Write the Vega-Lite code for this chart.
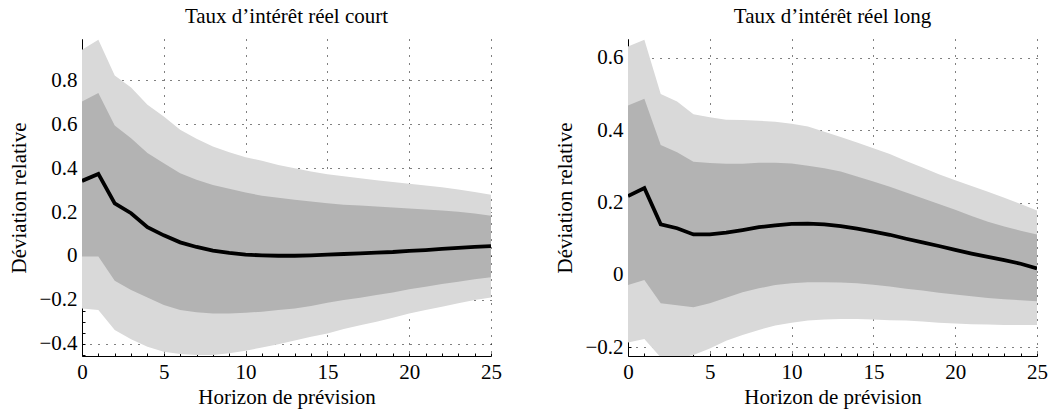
{
  "$schema": "https://vega.github.io/schema/vega-lite/v6.json",
  "padding": {"left": 8, "top": 6, "right": 5, "bottom": 2},
  "spacing": 52,
  "config": {
    "font": "Liberation Serif",
    "view": {"stroke": null},
    "title": {"font": "Liberation Serif", "fontSize": 21, "fontWeight": "normal", "color": "black", "offset": 12, "anchor": "middle", "frame": "group"},
    "axis": {"labelFont": "Liberation Serif", "titleFont": "Liberation Serif", "labelFontSize": 21, "titleFontSize": 21, "titleFontWeight": "normal", "labelColor": "black", "titleColor": "black", "labelFlush": false, "labelOverlap": false,
      "grid": true, "gridColor": "black", "gridDash": [1, 7], "gridWidth": 1,
      "ticks": true, "tickSize": -3, "tickColor": "black", "tickWidth": 1,
      "domain": true, "domainColor": "black", "domainWidth": 1, "zindex": 1}
  },
  "datasets": {
    "court": [
      {"h": 0, "med": 0.342, "hi68": 0.704, "lo68": -0.003, "hi90": 0.940, "lo90": -0.239},
      {"h": 1, "med": 0.374, "hi68": 0.743, "lo68": -0.003, "hi90": 0.986, "lo90": -0.246},
      {"h": 2, "med": 0.240, "hi68": 0.595, "lo68": -0.113, "hi90": 0.823, "lo90": -0.338},
      {"h": 3, "med": 0.195, "hi68": 0.537, "lo68": -0.155, "hi90": 0.768, "lo90": -0.380},
      {"h": 4, "med": 0.131, "hi68": 0.469, "lo68": -0.189, "hi90": 0.689, "lo90": -0.414},
      {"h": 5, "med": 0.094, "hi68": 0.423, "lo68": -0.224, "hi90": 0.636, "lo90": -0.437},
      {"h": 6, "med": 0.062, "hi68": 0.377, "lo68": -0.246, "hi90": 0.575, "lo90": -0.447},
      {"h": 7, "med": 0.041, "hi68": 0.347, "lo68": -0.257, "hi90": 0.534, "lo90": -0.452},
      {"h": 8, "med": 0.024, "hi68": 0.324, "lo68": -0.262, "hi90": 0.499, "lo90": -0.452},
      {"h": 9, "med": 0.014, "hi68": 0.306, "lo68": -0.262, "hi90": 0.473, "lo90": -0.444},
      {"h": 10, "med": 0.006, "hi68": 0.289, "lo68": -0.259, "hi90": 0.450, "lo90": -0.432},
      {"h": 11, "med": 0.003, "hi68": 0.275, "lo68": -0.254, "hi90": 0.434, "lo90": -0.417},
      {"h": 12, "med": 0.001, "hi68": 0.265, "lo68": -0.246, "hi90": 0.415, "lo90": -0.402},
      {"h": 13, "med": 0.001, "hi68": 0.256, "lo68": -0.239, "hi90": 0.400, "lo90": -0.385},
      {"h": 14, "med": 0.003, "hi68": 0.248, "lo68": -0.228, "hi90": 0.385, "lo90": -0.368},
      {"h": 15, "med": 0.006, "hi68": 0.240, "lo68": -0.213, "hi90": 0.373, "lo90": -0.353},
      {"h": 16, "med": 0.009, "hi68": 0.234, "lo68": -0.201, "hi90": 0.363, "lo90": -0.333},
      {"h": 17, "med": 0.012, "hi68": 0.230, "lo68": -0.190, "hi90": 0.354, "lo90": -0.316},
      {"h": 18, "med": 0.015, "hi68": 0.225, "lo68": -0.178, "hi90": 0.345, "lo90": -0.300},
      {"h": 19, "med": 0.018, "hi68": 0.221, "lo68": -0.167, "hi90": 0.337, "lo90": -0.282},
      {"h": 20, "med": 0.023, "hi68": 0.216, "lo68": -0.152, "hi90": 0.329, "lo90": -0.262},
      {"h": 21, "med": 0.027, "hi68": 0.212, "lo68": -0.140, "hi90": 0.321, "lo90": -0.246},
      {"h": 22, "med": 0.032, "hi68": 0.207, "lo68": -0.128, "hi90": 0.313, "lo90": -0.231},
      {"h": 23, "med": 0.037, "hi68": 0.201, "lo68": -0.117, "hi90": 0.303, "lo90": -0.216},
      {"h": 24, "med": 0.041, "hi68": 0.193, "lo68": -0.106, "hi90": 0.292, "lo90": -0.201},
      {"h": 25, "med": 0.045, "hi68": 0.183, "lo68": -0.097, "hi90": 0.279, "lo90": -0.189}
    ],
    "long": [
      {"h": 0, "med": 0.218, "hi68": 0.468, "lo68": -0.028, "hi90": 0.631, "lo90": -0.187},
      {"h": 1, "med": 0.240, "hi68": 0.487, "lo68": -0.014, "hi90": 0.650, "lo90": -0.177},
      {"h": 2, "med": 0.140, "hi68": 0.359, "lo68": -0.078, "hi90": 0.500, "lo90": -0.228},
      {"h": 3, "med": 0.129, "hi68": 0.339, "lo68": -0.084, "hi90": 0.479, "lo90": -0.232},
      {"h": 4, "med": 0.112, "hi68": 0.313, "lo68": -0.089, "hi90": 0.444, "lo90": -0.221},
      {"h": 5, "med": 0.112, "hi68": 0.309, "lo68": -0.078, "hi90": 0.436, "lo90": -0.203},
      {"h": 6, "med": 0.117, "hi68": 0.307, "lo68": -0.063, "hi90": 0.429, "lo90": -0.182},
      {"h": 7, "med": 0.124, "hi68": 0.307, "lo68": -0.048, "hi90": 0.428, "lo90": -0.166},
      {"h": 8, "med": 0.132, "hi68": 0.310, "lo68": -0.037, "hi90": 0.426, "lo90": -0.152},
      {"h": 9, "med": 0.137, "hi68": 0.310, "lo68": -0.028, "hi90": 0.423, "lo90": -0.140},
      {"h": 10, "med": 0.141, "hi68": 0.308, "lo68": -0.023, "hi90": 0.418, "lo90": -0.132},
      {"h": 11, "med": 0.142, "hi68": 0.302, "lo68": -0.020, "hi90": 0.410, "lo90": -0.126},
      {"h": 12, "med": 0.140, "hi68": 0.295, "lo68": -0.020, "hi90": 0.396, "lo90": -0.123},
      {"h": 13, "med": 0.135, "hi68": 0.286, "lo68": -0.021, "hi90": 0.381, "lo90": -0.122},
      {"h": 14, "med": 0.128, "hi68": 0.272, "lo68": -0.023, "hi90": 0.366, "lo90": -0.122},
      {"h": 15, "med": 0.120, "hi68": 0.258, "lo68": -0.027, "hi90": 0.350, "lo90": -0.123},
      {"h": 16, "med": 0.111, "hi68": 0.244, "lo68": -0.032, "hi90": 0.334, "lo90": -0.125},
      {"h": 17, "med": 0.100, "hi68": 0.228, "lo68": -0.038, "hi90": 0.315, "lo90": -0.126},
      {"h": 18, "med": 0.090, "hi68": 0.212, "lo68": -0.043, "hi90": 0.297, "lo90": -0.129},
      {"h": 19, "med": 0.080, "hi68": 0.196, "lo68": -0.049, "hi90": 0.278, "lo90": -0.132},
      {"h": 20, "med": 0.069, "hi68": 0.180, "lo68": -0.054, "hi90": 0.262, "lo90": -0.134},
      {"h": 21, "med": 0.059, "hi68": 0.163, "lo68": -0.059, "hi90": 0.246, "lo90": -0.136},
      {"h": 22, "med": 0.050, "hi68": 0.147, "lo68": -0.064, "hi90": 0.230, "lo90": -0.137},
      {"h": 23, "med": 0.041, "hi68": 0.134, "lo68": -0.067, "hi90": 0.213, "lo90": -0.138},
      {"h": 24, "med": 0.031, "hi68": 0.122, "lo68": -0.070, "hi90": 0.196, "lo90": -0.138},
      {"h": 25, "med": 0.018, "hi68": 0.112, "lo68": -0.073, "hi90": 0.178, "lo90": -0.138}
    ]
  },
  "hconcat": [
    {
      "width": 409,
      "height": 317,
      "title": {"text": "Taux d’intérêt réel court"},
      "data": {"name": "court"},
      "encoding": {
        "x": {"field": "h", "type": "quantitative", "title": "Horizon de prévision", "scale": {"domain": [0, 25], "nice": false, "zero": false},
          "axis": {"values": [0,1,2,3,4,5,6,7,8,9,10,11,12,13,14,15,16,17,18,19,20,21,22,23,24,25], "tickCount": 200,
            "labelExpr": "datum.value % 5 === 0 ? format(datum.value, 'd') : ''",
            "gridOpacity": {"condition": {"test": "datum.value % 5 === 0", "value": 1}, "value": 0},
            "labelPadding": 8, "titlePadding": 4}}
      },
      "layer": [
        {
          "mark": {"type": "area", "color": "#d9d9d9", "opacity": 1, "clip": true},
          "encoding": {
            "y": {"field": "lo90", "type": "quantitative", "title": "Déviation relative", "scale": {"domain": [-0.456, 0.989], "nice": false, "zero": false},
              "axis": {"values": [-0.45,-0.4,-0.35,-0.3,-0.25,-0.2,-0.15,-0.1,-0.05,0,0.05,0.1,0.15,0.2,0.25,0.3,0.35,0.4,0.45,0.5,0.55,0.6,0.65,0.7,0.75,0.8,0.85,0.9], "tickCount": 200,
                "labelExpr": "round(datum.value * 100) % 20 === 0 ? replace(format(datum.value, '~g'), '-', '\u2212') : ''",
                "gridOpacity": {"condition": {"test": "round(datum.value * 100) % 20 === 0", "value": 1}, "value": 0},
                "labelPadding": 8, "titlePadding": 9}},
            "y2": {"field": "hi90"}
          }
        },
        {
          "mark": {"type": "area", "color": "#b3b3b3", "opacity": 1, "clip": true},
          "encoding": {
            "y": {"field": "lo68", "type": "quantitative", "title": "Déviation relative"},
            "y2": {"field": "hi68"}
          }
        },
        {
          "mark": {"type": "line", "color": "black", "strokeWidth": 3.8, "clip": true},
          "encoding": {
            "y": {"field": "med", "type": "quantitative", "title": "Déviation relative"}
          }
        }
      ]
    },
    {
      "width": 409,
      "height": 317,
      "title": {"text": "Taux d’intérêt réel long"},
      "data": {"name": "long"},
      "encoding": {
        "x": {"field": "h", "type": "quantitative", "title": "Horizon de prévision", "scale": {"domain": [0, 25], "nice": false, "zero": false},
          "axis": {"values": [0,1,2,3,4,5,6,7,8,9,10,11,12,13,14,15,16,17,18,19,20,21,22,23,24,25], "tickCount": 200,
            "labelExpr": "datum.value % 5 === 0 ? format(datum.value, 'd') : ''",
            "gridOpacity": {"condition": {"test": "datum.value % 5 === 0", "value": 1}, "value": 0},
            "labelPadding": 8, "titlePadding": 4}}
      },
      "layer": [
        {
          "mark": {"type": "area", "color": "#d9d9d9", "opacity": 1, "clip": true},
          "encoding": {
            "y": {"field": "lo90", "type": "quantitative", "title": "Déviation relative", "scale": {"domain": [-0.224, 0.652], "nice": false, "zero": false},
              "axis": {"values": [-0.2,-0.15,-0.1,-0.05,0,0.05,0.1,0.15,0.2,0.25,0.3,0.35,0.4,0.45,0.5,0.55,0.6], "tickCount": 200,
                "labelExpr": "round(datum.value * 100) % 20 === 0 ? replace(format(datum.value, '~g'), '-', '\u2212') : ''",
                "gridOpacity": {"condition": {"test": "round(datum.value * 100) % 20 === 0", "value": 1}, "value": 0},
                "labelPadding": 8, "titlePadding": 9}},
            "y2": {"field": "hi90"}
          }
        },
        {
          "mark": {"type": "area", "color": "#b3b3b3", "opacity": 1, "clip": true},
          "encoding": {
            "y": {"field": "lo68", "type": "quantitative", "title": "Déviation relative"},
            "y2": {"field": "hi68"}
          }
        },
        {
          "mark": {"type": "line", "color": "black", "strokeWidth": 3.8, "clip": true},
          "encoding": {
            "y": {"field": "med", "type": "quantitative", "title": "Déviation relative"}
          }
        }
      ]
    }
  ]
}
